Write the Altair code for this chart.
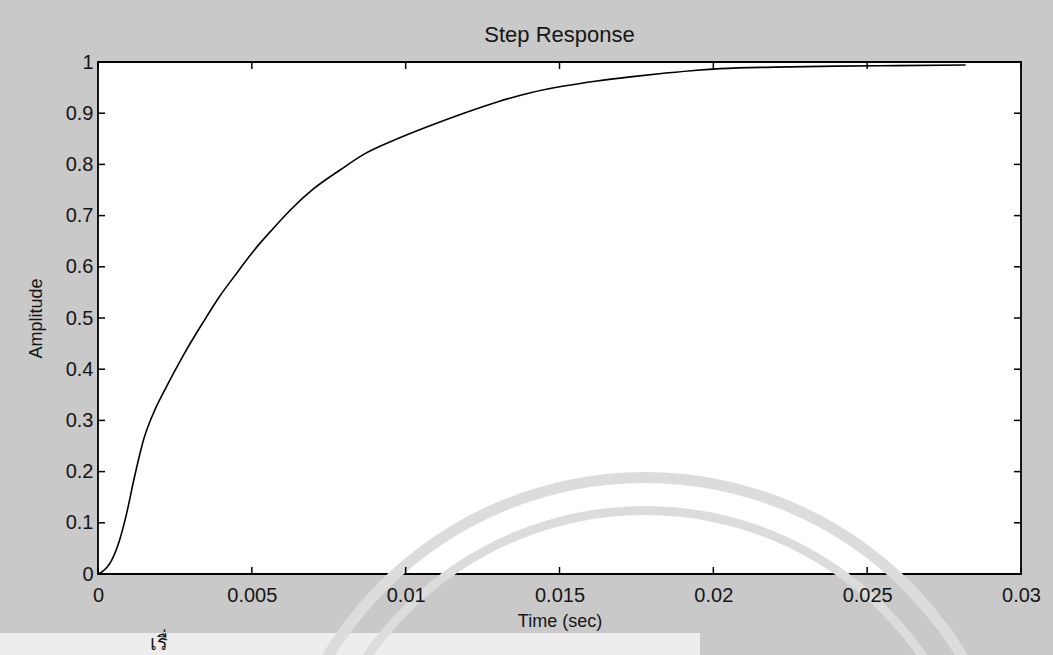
import altair as alt
import pandas as pd

# Step response samples (time in seconds, normalised amplitude)
time_s = [0, 0.0001, 0.00042, 0.00069, 0.00091, 0.00118, 0.0015, 0.00183,
          0.00215, 0.0028, 0.0034, 0.00394, 0.00454, 0.00507, 0.00565,
          0.00627, 0.0070, 0.00789, 0.00865, 0.00973, 0.01081, 0.01189,
          0.01298, 0.01406, 0.01514, 0.01622, 0.0173, 0.01839, 0.01947,
          0.02023, 0.022, 0.024, 0.026, 0.0282]
amplitude = [0, 0.003, 0.024, 0.064, 0.113, 0.188, 0.266, 0.318,
             0.357, 0.43, 0.49, 0.541, 0.590, 0.632, 0.672,
             0.712, 0.752, 0.790, 0.820, 0.850, 0.876, 0.900,
             0.922, 0.940, 0.953, 0.963, 0.971, 0.978, 0.984,
             0.987, 0.990, 0.992, 0.993, 0.994]

x_ticks = [0, 0.005, 0.01, 0.015, 0.02, 0.025, 0.03]
y_ticks = [0, 0.1, 0.2, 0.3, 0.4, 0.5, 0.6, 0.7, 0.8, 0.9, 1]

W, H = 923, 512
LEFT, TOP = 98, 62
TICK = 7
FONT = "Liberation Sans"
INK = "#151515"

resp = pd.DataFrame({"t": time_s, "y": amplitude})
xt = pd.DataFrame({"v": x_ticks})
yt = pd.DataFrame({"v": y_ticks})
one = pd.DataFrame({"k": [0]})

xs = alt.Scale(domain=[0, 0.03], nice=False, zero=False)
ys = alt.Scale(domain=[0, 1], nice=False)

# light paper strip below the grey figure
paper = alt.Chart(one).mark_rect(color="#ededed").encode(
    x=alt.value(-LEFT), x2=alt.value(700 - LEFT),
    y=alt.value(633 - TOP), y2=alt.value(655 - TOP),
)

# faint seal printed behind the figure
seal_outer = alt.Chart(one).mark_arc(
    radius=376, radius2=365, theta=0, theta2=6.2832, color="#dcdcdc"
).encode(x=alt.value(645 - LEFT), y=alt.value(848 - TOP))
seal_inner = alt.Chart(one).mark_arc(
    radius=342, radius2=333, theta=0, theta2=6.2832, color="#dcdcdc"
).encode(x=alt.value(645 - LEFT), y=alt.value(848 - TOP))

curve = alt.Chart(resp).mark_line(
    color="black", strokeWidth=1.6, interpolate="monotone"
).encode(
    x=alt.X("t:Q", scale=xs, axis=alt.Axis(
        values=x_ticks, format="~g", title="Time (sec)", domain=False,
        ticks=False, grid=False, labelPadding=11, titlePadding=7,
        labelFontSize=20, titleFontSize=18, labelFont=FONT, titleFont=FONT,
        labelColor=INK, titleColor=INK, titleFontWeight="normal",
        labelFlush=False, labelOverlap=False, zindex=1)),
    y=alt.Y("y:Q", scale=ys, axis=alt.Axis(
        values=y_ticks, format="~g", title="Amplitude", domain=False,
        ticks=False, grid=False, labelPadding=5, titlePadding=20,
        labelFontSize=20, titleFontSize=18, labelFont=FONT, titleFont=FONT,
        labelColor=INK, titleColor=INK, titleFontWeight="normal",
        labelFlush=False, labelOverlap=False, zindex=1)),
)

# inward ticks on all four sides of the box
tick_style = dict(color="black", strokeWidth=1.5)
bottom_ticks = alt.Chart(xt).mark_rule(**tick_style).encode(
    x=alt.X("v:Q", scale=xs, axis=None), y=alt.value(H), y2=alt.value(H - TICK))
top_ticks = alt.Chart(xt).mark_rule(**tick_style).encode(
    x=alt.X("v:Q", scale=xs, axis=None), y=alt.value(0), y2=alt.value(TICK))
left_ticks = alt.Chart(yt).mark_rule(**tick_style).encode(
    y=alt.Y("v:Q", scale=ys, axis=None), x=alt.value(0), x2=alt.value(TICK))
right_ticks = alt.Chart(yt).mark_rule(**tick_style).encode(
    y=alt.Y("v:Q", scale=ys, axis=None), x=alt.value(W), x2=alt.value(W - TICK))

caption = alt.Chart(one).mark_text(
    text="เรื่", fontSize=20, align="left", baseline="alphabetic", color=INK
).encode(x=alt.value(150 - LEFT), y=alt.value(650 - TOP))

chart = alt.layer(
    paper, seal_outer, seal_inner, curve,
    bottom_ticks, top_ticks, left_ticks, right_ticks, caption,
).resolve_axis(
    x="independent", y="independent",
).properties(
    width=W, height=H,
    title=alt.TitleParams("Step Response", fontSize=22, font=FONT,
                          fontWeight="normal", color=INK, anchor="middle",
                          offset=5),
    autosize=alt.AutoSizeParams(type="none"),
    padding={"left": LEFT, "top": TOP, "right": 1053 - LEFT - W,
             "bottom": 655 - TOP - H},
).configure(
    background="#c9c9c9",
).configure_view(
    fill="white", stroke="black", strokeWidth=1.8,
)

chart.save("out.html", embed_options={"renderer": "svg", "actions": False})
